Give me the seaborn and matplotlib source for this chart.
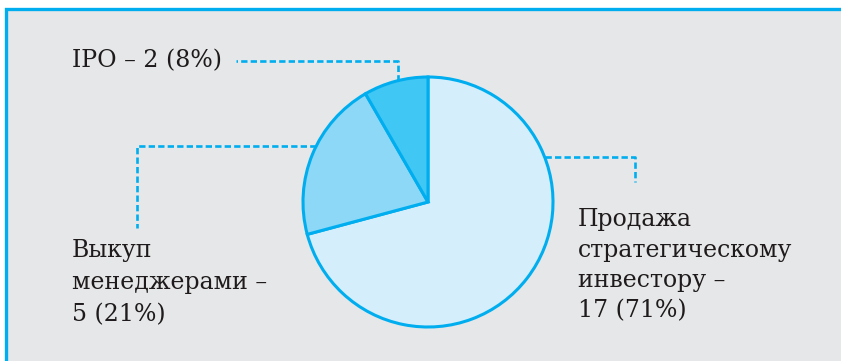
import numpy as np
import matplotlib
matplotlib.use("Agg")
import matplotlib.pyplot as plt
import seaborn as sns
from matplotlib.patches import Rectangle

# --- Data ---
labels = ["Продажа\nстратегическому\nинвестору –\n17 (71%)",
          "Выкуп\nменеджерами –\n5 (21%)",
          "IPO – 2 (8%)"]
counts = [17, 5, 2]
colors = ["#d4eefb", "#8dd8f7", "#41c7f4"]

EDGE = "#00aeef"
BG = "#e6e7e8"
W, H = 841, 361

sns.set_style("white")
plt.rcParams['font.family'] = ['DejaVu Serif']

fig = plt.figure(figsize=(W / 100, H / 100), dpi=100)
fig.patch.set_facecolor("white")
ax = fig.add_axes([0, 0, 1, 1])
ax.set_axis_off()


def py(y):
    # pixel row (from top) -> data y
    return H - y


# panel with cyan frame on top and left
ax.add_patch(Rectangle((6.5, py(9) - 400), 900, 400, facecolor=BG,
                       edgecolor=EDGE, linewidth=2.4, zorder=0))

cx, cy, r = 428, py(202), 125
ax.pie(counts, colors=colors, startangle=90, counterclock=False,
       center=(cx, cy), radius=r, frame=True,
       wedgeprops=dict(edgecolor=EDGE, linewidth=2.2, joinstyle="miter"))

dash = dict(color=EDGE, linewidth=1.9, linestyle=(0, (2.4, 1.2)), zorder=1)

# IPO leader
y0 = cy + np.sqrt(r**2 - (398 - cx)**2)
ax.plot([398, 398, 236], [y0, py(60.7), py(60.7)], **dash)
# buyout leader
yb = py(145.5)
xb = cx - np.sqrt(r**2 - (yb - cy)**2)
ax.plot([xb, 137, 137], [yb, yb, py(228)], **dash)
# strategic sale leader
ys = py(156.7)
xs = cx + np.sqrt(r**2 - (ys - cy)**2)
ax.plot([xs, 635, 635], [ys, ys, py(182)], **dash)

fs = 17
ax.text(72, py(61), labels[2], fontsize=fs, va="center", ha="left", color="#1f1b1c")
ax.text(72, py(321), labels[1], fontsize=fs, va="baseline", ha="left",
        color="#1f1b1c", linespacing=1.5, multialignment="left")
ax.text(578, py(317), labels[0], fontsize=fs, va="baseline", ha="left",
        color="#1f1b1c", linespacing=1.4, multialignment="left")

ax.set_xlim(0, W)
ax.set_ylim(0, H)
ax.set_aspect("auto")

fig.savefig("out.png", dpi=100, facecolor="white")
